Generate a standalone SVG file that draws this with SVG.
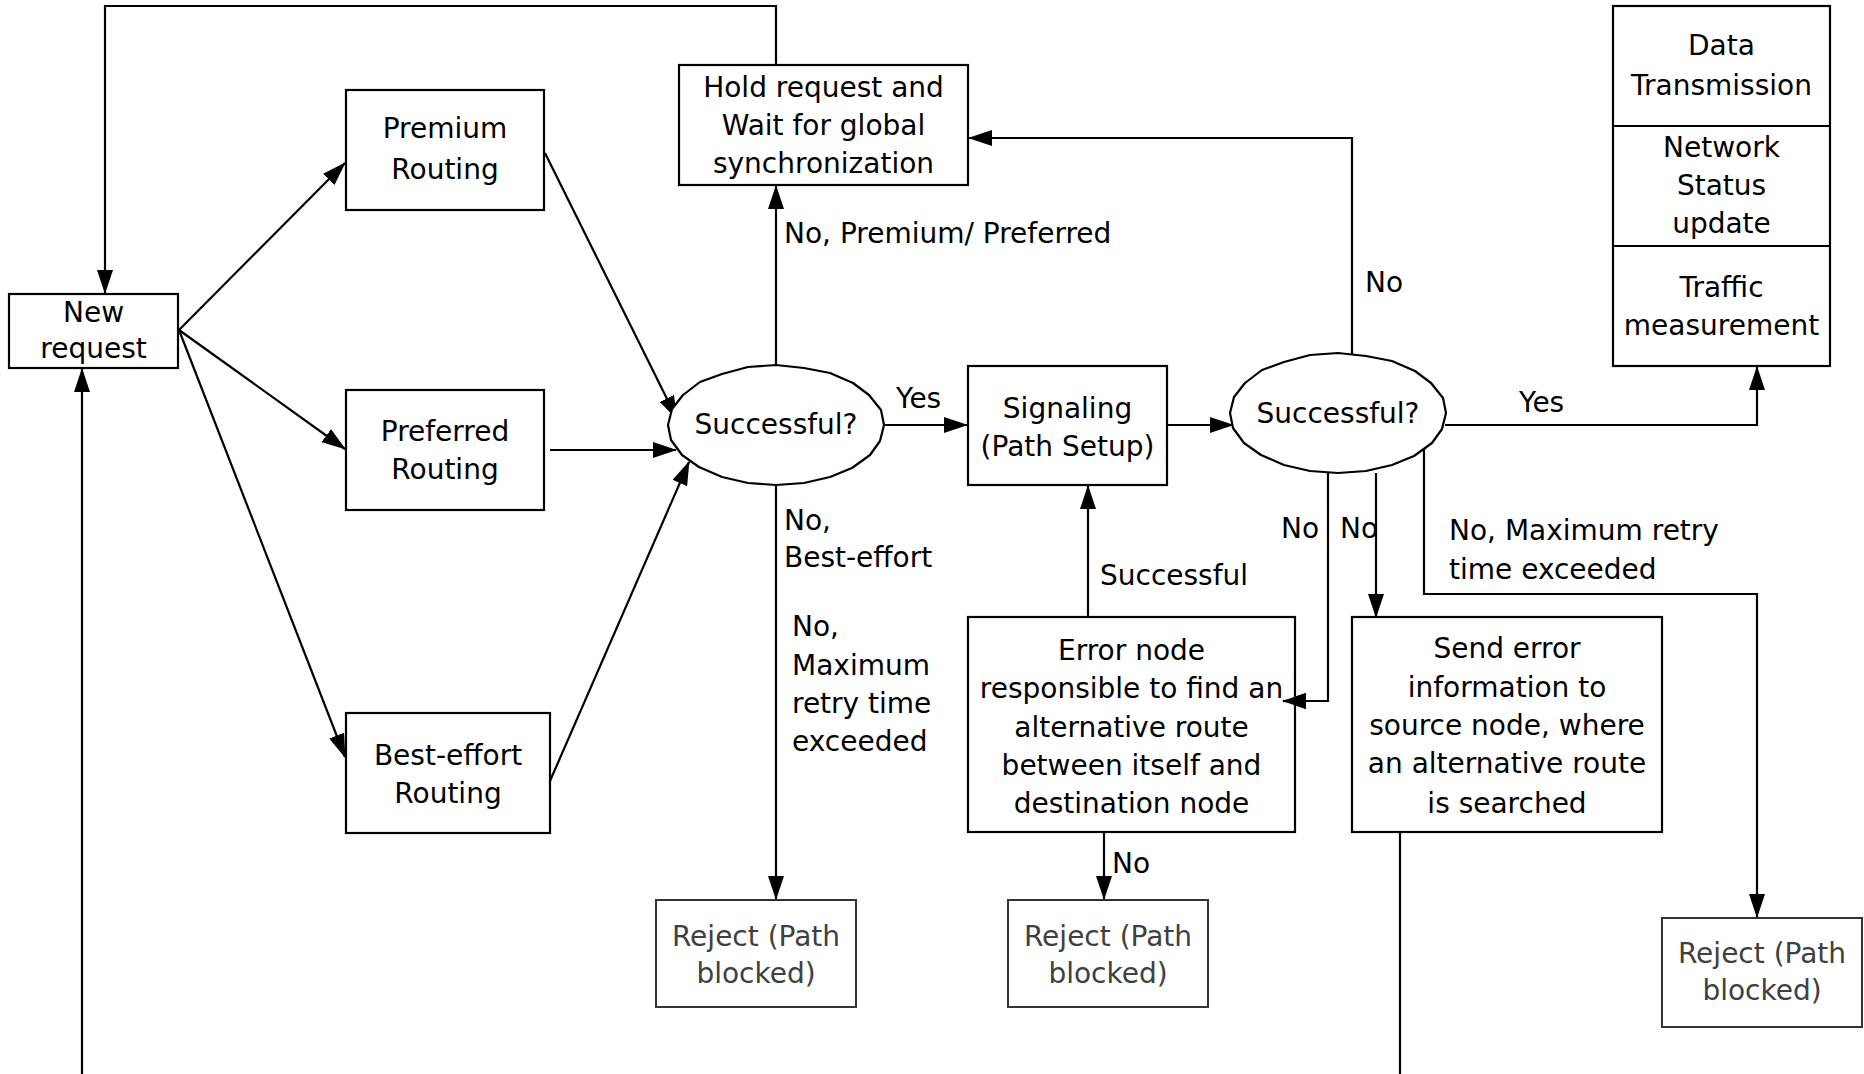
<svg xmlns="http://www.w3.org/2000/svg" xmlns:xlink="http://www.w3.org/1999/xlink" width="1864" height="1074" viewBox="0 0 1864 1074">
<style>
text{font-family:"DejaVu Sans","Verdana",sans-serif;font-size:28px;fill:#000}
.c{text-anchor:middle}
.box{fill:#fff;stroke:#000;stroke-width:2.2}
.rej{fill:#fff;stroke:#333;stroke-width:2}
.rt{fill:#404040}
.ln{fill:none;stroke:#000;stroke-width:2.2}
.arr{fill:none;stroke:#000;stroke-width:2.2;marker-end:url(#ah)}
.ell{fill:#fff;stroke:#000;stroke-width:2.2;stroke-linejoin:round}
</style>
<defs>
<marker id="ah" viewBox="0 0 24 16" markerWidth="24" markerHeight="16" refX="23" refY="8" orient="auto" markerUnits="userSpaceOnUse">
<path d="M0,0 L24,8 L0,16 z" fill="#000"/>
</marker>
<polygon id="wob" points="108,0 104,16 94,30 76,43 54,52 28,58 0,60 -28,58 -54,52 -77,42 -94,30 -105,15 -108,0 -104,-16 -93,-30 -76,-43 -54,-51 -28,-58 0,-60 28,-57 54,-52 77,-42 93,-30 105,-15"/>
</defs>
<rect width="1864" height="1074" fill="#fff"/>

<g id="connectors">
<path class="arr" d="M776,65 V6 H105 V293"/>
<path class="arr" d="M82,1074 V369"/>
<path class="arr" d="M179,330 L345,163"/>
<path class="arr" d="M179,330 L345,449"/>
<path class="arr" d="M179,330 L345,757"/>
<path class="arr" d="M545,153 L677,419"/>
<path class="arr" d="M550,450 L676,450"/>
<path class="arr" d="M550,781 L689,462"/>
<path class="arr" d="M776,365 V186"/>
<path class="arr" d="M884,425 H967"/>
<path class="arr" d="M776,485 V899"/>
<path class="arr" d="M1167,425 H1233"/>
<path class="arr" d="M1352,354 V138 H969"/>
<path class="arr" d="M1445,425 H1757 V367"/>
<path class="arr" d="M1328,473 V701 H1283"/>
<path class="arr" d="M1376,473 V617"/>
<path class="arr" d="M1424,449 V594 H1757 V917"/>
<path class="arr" d="M1088,617 V486"/>
<path class="arr" d="M1104,833 V899"/>
<path class="ln" d="M1400,833 V1074"/>
<text x="784" y="243">No, Premium/ Preferred</text>
<text x="896" y="408">Yes</text>
<text x="784" y="530">No,</text>
<text x="784" y="567">Best-effort</text>
<text x="792" y="636">No,</text>
<text x="792" y="675">Maximum</text>
<text x="792" y="713">retry time</text>
<text x="792" y="751">exceeded</text>
<text x="1100" y="585">Successful</text>
<text x="1112" y="873">No</text>
<text x="1365" y="292">No</text>
<text x="1519" y="412">Yes</text>
<text x="1281" y="538">No</text>
<text x="1340" y="538">No</text>
<text x="1449" y="540">No, Maximum retry</text>
<text x="1449" y="579">time exceeded</text>
</g>

<g id="new-request">
<rect class="box" x="9" y="294" width="169" height="74"/>
<text class="c" x="93.5" y="322">New</text>
<text class="c" x="93.5" y="358">request</text>
</g>
<g id="premium">
<rect class="box" x="346" y="90" width="198" height="120"/>
<text class="c" x="445" y="138">Premium</text>
<text class="c" x="445" y="179">Routing</text>
</g>
<g id="preferred">
<rect class="box" x="346" y="390" width="198" height="120"/>
<text class="c" x="445" y="441">Preferred</text>
<text class="c" x="445" y="479">Routing</text>
</g>
<g id="best-effort">
<rect class="box" x="346" y="713" width="204" height="120"/>
<text class="c" x="448" y="765">Best-effort</text>
<text class="c" x="448" y="803">Routing</text>
</g>
<g id="hold">
<rect class="box" x="679" y="65" width="289" height="120"/>
<text class="c" x="823.5" y="97">Hold request and</text>
<text class="c" x="823.5" y="135">Wait for global</text>
<text class="c" x="823.5" y="173">synchronization</text>
</g>
<g id="successful-1">
<use xlink:href="#wob" class="ell" transform="translate(776,425)"/>
<text class="c" x="776" y="434">Successful?</text>
</g>
<g id="signaling">
<rect class="box" x="968" y="366" width="199" height="119"/>
<text class="c" x="1067.5" y="418">Signaling</text>
<text class="c" x="1067.5" y="456">(Path Setup)</text>
</g>
<g id="successful-2">
<use xlink:href="#wob" class="ell" transform="translate(1338,413)"/>
<text class="c" x="1338" y="423">Successful?</text>
</g>
<g id="data-transmission">
<rect class="box" x="1613" y="6" width="217" height="360"/>
<line class="ln" x1="1613" y1="126" x2="1830" y2="126"/>
<line class="ln" x1="1613" y1="246" x2="1830" y2="246"/>
<text class="c" x="1721.5" y="55">Data</text>
<text class="c" x="1721.5" y="95">Transmission</text>
<text class="c" x="1721.5" y="157">Network</text>
<text class="c" x="1721.5" y="195">Status</text>
<text class="c" x="1721.5" y="233">update</text>
<text class="c" x="1721.5" y="297">Traffic</text>
<text class="c" x="1721.5" y="335">measurement</text>
</g>
<g id="error-node">
<rect class="box" x="968" y="617" width="327" height="215"/>
<text class="c" x="1131.5" y="660">Error node</text>
<text class="c" x="1131.5" y="698">responsible to find an</text>
<text class="c" x="1131.5" y="737">alternative route</text>
<text class="c" x="1131.5" y="775">between itself and</text>
<text class="c" x="1131.5" y="813">destination node</text>
</g>
<g id="send-error">
<rect class="box" x="1352" y="617" width="310" height="215"/>
<text class="c" x="1507" y="658">Send error</text>
<text class="c" x="1507" y="697">information to</text>
<text class="c" x="1507" y="735">source node, where</text>
<text class="c" x="1507" y="773">an alternative route</text>
<text class="c" x="1507" y="813">is searched</text>
</g>
<g id="reject-1">
<rect class="rej" x="656" y="900" width="200" height="107"/>
<text class="c rt" x="756" y="946">Reject (Path</text>
<text class="c rt" x="756" y="983">blocked)</text>
</g>
<g id="reject-2">
<rect class="rej" x="1008" y="900" width="200" height="107"/>
<text class="c rt" x="1108" y="946">Reject (Path</text>
<text class="c rt" x="1108" y="983">blocked)</text>
</g>
<g id="reject-3">
<rect class="rej" x="1662" y="918" width="200" height="109"/>
<text class="c rt" x="1762" y="963">Reject (Path</text>
<text class="c rt" x="1762" y="1000">blocked)</text>
</g>
<g id="arrow-overlay">
<path class="arr" d="M1296,701 H1283"/>
</g>
</svg>
